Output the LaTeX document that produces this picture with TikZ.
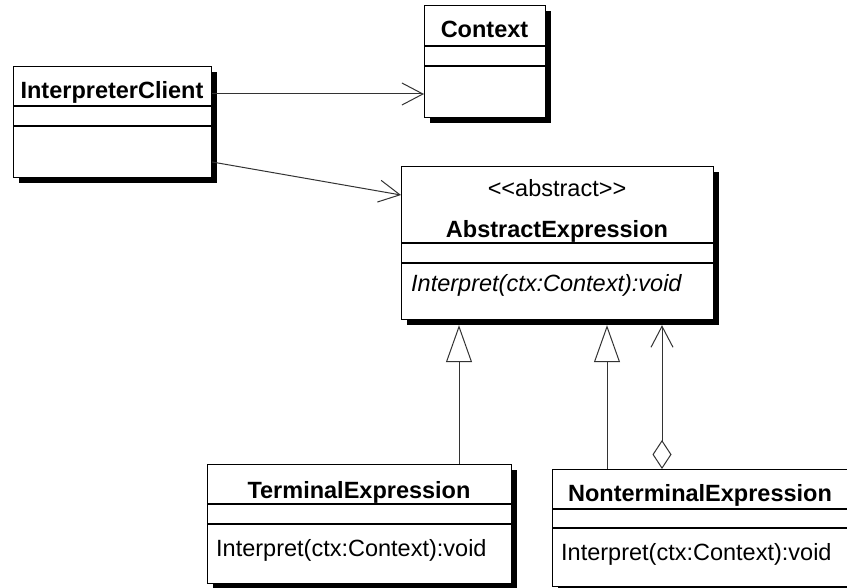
\documentclass[tikz,border=0pt]{standalone}
\usepackage{fontspec}
\setmainfont{Liberation Sans}
\usetikzlibrary{arrows.meta,shadows,calc}
\begin{document}
\begin{tikzpicture}[x=1pt,y=1pt,
 cls/.style={draw, line width=1.2pt, fill=white, anchor=north west, inner sep=0pt,
   drop shadow={shadow xshift=5pt, shadow yshift=-5pt, fill=black, opacity=1}},
 ttl/.style={anchor=base, font=\fontsize{23.5}{28}\selectfont\bfseries, inner sep=0pt},
 ster/.style={anchor=base, font=\fontsize{23.5}{28}\selectfont, inner sep=0pt},
 txt/.style={anchor=base west, font=\fontsize{23.5}{28}\selectfont, inner sep=0pt},
 ittxt/.style={anchor=base west, font=\fontsize{23.5}{28}\selectfont\itshape, inner sep=0pt},
 div/.style={line width=1.2pt},
 conn/.style={line width=1pt, draw=black!80},
 dep/.style={conn, -{Straight Barb[length=21pt,width=22pt]}},
 gen/.style={conn, -{Triangle[open,length=37pt,width=26pt]}},
 agg/.style={conn, {Diamond[open,length=29pt,width=19pt]}-{Straight Barb[length=21pt,width=22pt]}},
]
\useasboundingbox (0,0) rectangle (847,-588);
\fill[white] (0,0) rectangle (847,-588);
\begin{scope}
\clip (0,0) rectangle (847,-588);
% Context
\node[cls, minimum width=121pt, minimum height=112pt] (ctx) at (424,-5) {};
\draw[div] (ctx.west |- 0,-46) -- (ctx.east |- 0,-46);
\draw[div] (ctx.west |- 0,-66) -- (ctx.east |- 0,-66);
\node[ttl] (ctxT) at (484.5,-38) {Context};
% InterpreterClient
\node[cls, minimum width=198pt, minimum height=111pt] (cl) at (13,-66) {};
\draw[div] (cl.west |- 0,-106) -- (cl.east |- 0,-106);
\draw[div] (cl.west |- 0,-126) -- (cl.east |- 0,-126);
\node[ttl] (clT) at (112,-99) {InterpreterClient};
% AbstractExpression
\node[cls, minimum width=312pt, minimum height=153pt] (ae) at (401,-166) {};
\draw[div] (ae.west |- 0,-243) -- (ae.east |- 0,-243);
\draw[div] (ae.west |- 0,-263) -- (ae.east |- 0,-263);
\node[ster] (aeS) at (557,-197) {<\kern0pt<abstract>\kern0pt>};
\node[ttl] (aeT) at (557,-238) {AbstractExpression};
\node[ittxt] (aeM) at (411,-292) {Interpret(ctx:Context):void};
% TerminalExpression
\node[cls, minimum width=304pt, minimum height=119pt] (te) at (207,-464) {};
\draw[div] (te.west |- 0,-504) -- (te.east |- 0,-504);
\draw[div] (te.west |- 0,-524) -- (te.east |- 0,-524);
\node[ttl] (teT) at (359,-498) {TerminalExpression};
\node[txt] (teM) at (216,-556) {Interpret(ctx:Context):void};
% NonterminalExpression
\node[cls, minimum width=296pt, minimum height=117pt] (nt) at (552,-469) {};
\draw[div] (nt.west |- 0,-509) -- (nt.east |- 0,-509);
\draw[div] (nt.west |- 0,-528) -- (nt.east |- 0,-528);
\node[ttl] (ntT) at (700,-501) {NonterminalExpression};
\node[txt] (ntM) at (561,-560) {Interpret(ctx:Context):void};
% connectors
\coordinate (y1) at (0,-94);
\coordinate (y2a) at (0,-162);
\coordinate (y2b) at (0,-195);
\coordinate (g1) at (459,0);
\coordinate (g2) at (607,0);
\coordinate (g3) at (662,0);
\draw[dep] (cl.east |- y1) -- (ctx.west |- y1);
\draw[dep] (cl.east |- y2a) -- (ae.west |- y2b);
\draw[gen] (te.north -| g1) -- ($(ae.south -| g1)+(0,-5)$);
\draw[gen] (nt.north -| g2) -- ($(ae.south -| g2)+(0,-5)$);
\draw[agg] (nt.north -| g3) -- ($(ae.south -| g3)+(0,-5)$);
\end{scope}
\end{tikzpicture}
\end{document}
